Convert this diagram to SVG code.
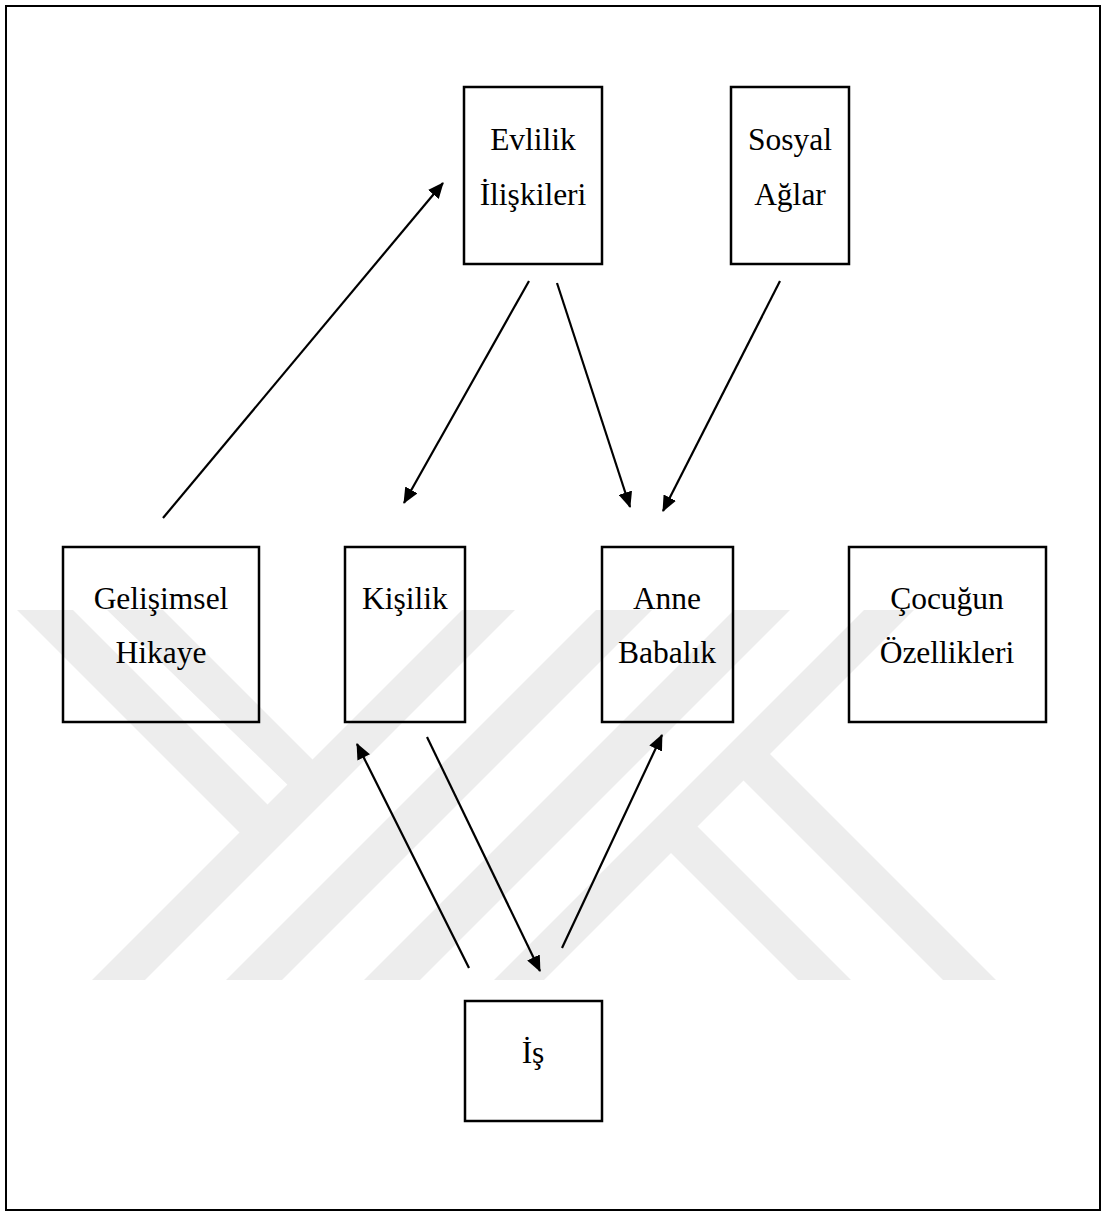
<svg xmlns="http://www.w3.org/2000/svg" width="1105" height="1214" viewBox="0 0 1105 1214">
<style>
.box{fill:none;stroke:#000;stroke-width:2.5}
.lbl{font-family:'Liberation Serif','Times New Roman',Times,'DejaVu Serif',serif;font-size:31.5px;fill:#000;text-anchor:middle}
.edge{stroke:#000;stroke-width:2.2;fill:none;marker-end:url(#ah)}
.wm{fill:#ededed}
</style>
<defs>
<marker id="ah" markerUnits="userSpaceOnUse" markerWidth="16" markerHeight="14" refX="15" refY="7" orient="auto"><path d="M0,0 L16,7 L0,14 z" fill="#000"/></marker>
</defs>
<rect width="1105" height="1214" fill="#fff"/>
<g id="watermark" class="wm">
<polygon points="92,980 145,980 515,610 462,610"/>
<polygon points="17,610 73,610 290,827 262,855"/>
<polygon points="107,610 163,610 320,767 295,792"/>
<polygon points="226,980 282,980 652,610 596,610"/>
<polygon points="364,980 420,980 790,610 734,610"/>
<polygon points="494,980 544,980 914,610 864,610"/>
<polygon points="761,745 996,980 943,980 733,770"/>
<polygon points="691,820 851,980 798,980 668,850"/>
</g>
<rect id="frame" x="6" y="6" width="1094" height="1204" fill="none" stroke="#000" stroke-width="2"/>
<g id="connectors">
<line class="edge" x1="163" y1="518" x2="443" y2="183"/>
<line class="edge" x1="529" y1="281" x2="404" y2="503"/>
<line class="edge" x1="557" y1="283" x2="630" y2="507"/>
<line class="edge" x1="780" y1="281" x2="663" y2="511"/>
<line class="edge" x1="469" y1="968" x2="357" y2="744"/>
<line class="edge" x1="427" y1="737" x2="540" y2="971"/>
<line class="edge" x1="562" y1="948" x2="662" y2="735"/>
</g>
<g id="evlilik" font-family="'Liberation Serif', serif">
<rect class="box" x="464" y="87" width="138" height="177"/>
<text class="lbl" x="533" y="150">Evlilik</text>
<text class="lbl" x="533" y="205">İlişkileri</text>
</g>
<g id="sosyal" font-family="'Liberation Serif', serif">
<rect class="box" x="731" y="87" width="118" height="177"/>
<text class="lbl" x="790" y="150">Sosyal</text>
<text class="lbl" x="790" y="205">Ağlar</text>
</g>
<g id="gelisimsel" font-family="'Liberation Serif', serif">
<rect class="box" x="63" y="547" width="196" height="175"/>
<text class="lbl" x="161" y="609">Gelişimsel</text>
<text class="lbl" x="161" y="663">Hikaye</text>
</g>
<g id="kisilik" font-family="'Liberation Serif', serif">
<rect class="box" x="345" y="547" width="120" height="175"/>
<text class="lbl" x="405" y="609">Kişilik</text>
</g>
<g id="anne" font-family="'Liberation Serif', serif">
<rect class="box" x="602" y="547" width="131" height="175"/>
<text class="lbl" x="667" y="609">Anne</text>
<text class="lbl" x="667" y="663">Babalık</text>
</g>
<g id="cocugun" font-family="'Liberation Serif', serif">
<rect class="box" x="849" y="547" width="197" height="175"/>
<text class="lbl" x="947" y="609">Çocuğun</text>
<text class="lbl" x="947" y="663">Özellikleri</text>
</g>
<g id="is" font-family="'Liberation Serif', serif">
<rect class="box" x="465" y="1001" width="137" height="120"/>
<text class="lbl" x="533" y="1063">İş</text>
</g>
</svg>
